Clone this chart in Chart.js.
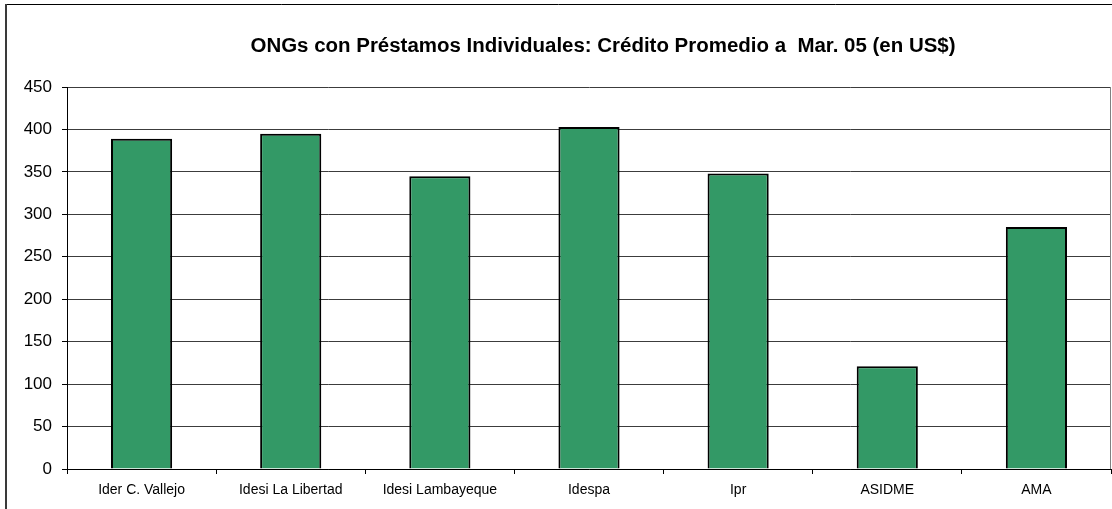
<!DOCTYPE html>
<html>
<head>
<meta charset="utf-8">
<script src="https://cdn.jsdelivr.net/npm/chart.js@4/dist/chart.umd.min.js"></script>
<style>
  html, body { margin: 0; padding: 0; background: #fff; }
  #wrap { width: 1112px; height: 509px; position: relative; }
</style>
</head>
<body>
<div id="wrap"><canvas id="c" width="1112" height="509"></canvas></div>
<script>
const titleText = "ONGs con Préstamos Individuales: Crédito Promedio a  Mar. 05 (en US$)";
const categories = ["Ider C. Vallejo", "Idesi La Libertad", "Idesi Lambayeque", "Idespa", "Ipr", "ASIDME", "AMA"];
const creditoPromedio = [389, 395, 345, 403, 348, 121, 285];
const yTicks = [0, 50, 100, 150, 200, 250, 300, 350, 400, 450];

const framePlugin = {
  id: 'frame',
  afterDraw(chart) {
    const ctx = chart.ctx;
    ctx.save();
    ctx.strokeStyle = '#000';
    ctx.lineWidth = 1;
    ctx.beginPath();
    ctx.moveTo(5, 4.5); ctx.lineTo(1112, 4.5);
    ctx.stroke();
    ctx.strokeStyle = '#3a3a3a';
    ctx.lineWidth = 2;
    ctx.beginPath();
    ctx.moveTo(6, 4); ctx.lineTo(6, 509);
    ctx.stroke();
    const a = chart.chartArea;
    ctx.strokeStyle = '#808080';
    ctx.lineWidth = 1;
    ctx.beginPath();
    ctx.moveTo(a.right - 0.5, a.top); ctx.lineTo(a.right - 0.5, a.bottom);
    ctx.stroke();
    ctx.font = 'bold 20px "Liberation Sans", Arial, sans-serif';
    ctx.fillStyle = '#000';
    ctx.textAlign = 'center';
    ctx.textBaseline = 'alphabetic';
    const w = ctx.measureText(titleText).width;
    const sx = 705 / w;
    ctx.translate(603, 52);
    ctx.scale(sx, 1);
    ctx.fillText(titleText, 0, 0);
    ctx.restore();
  }
};

new Chart(document.getElementById('c'), {
  type: 'bar',
  data: {
    labels: categories,
    datasets: [{
      data: creditoPromedio,
      backgroundColor: '#339966',
      borderColor: '#000',
      borderWidth: 2,
      borderSkipped: 'bottom',
      barPercentage: 0.41,
      categoryPercentage: 1.0
    }]
  },
  options: {
    responsive: false,
    animation: false,
    devicePixelRatio: 1,
    layout: { padding: { top: 87, right: 1, left: 0, bottom: 0 } },
    plugins: {
      legend: { display: false },
      title: { display: false },
      tooltip: { enabled: false }
    },
    scales: {
      x: {
        offset: true,
        grid: {
          offset: true,
          drawOnChartArea: false,
          drawTicks: true,
          tickLength: 5,
          color: '#000',
          lineWidth: 1
        },
        border: { display: true, color: '#000', width: 1 },
        ticks: {
          color: '#000',
          font: { family: '"Liberation Sans", Arial, sans-serif', size: 14 },
          padding: 8,
          maxRotation: 0,
          autoSkip: false
        },
        afterFit(scale) { scale.height = 40; }
      },
      y: {
        min: 0,
        max: 450,
        afterBuildTicks(scale) { scale.ticks = yTicks.map(v => ({ value: v })); },
        grid: {
          color: '#3c3c3c',
          lineWidth: 1,
          drawTicks: true,
          tickLength: 5,
          tickColor: '#000'
        },
        border: { display: true, color: '#000', width: 1 },
        ticks: {
          color: '#000',
          font: { family: '"Liberation Sans", Arial, sans-serif', size: 17 },
          padding: 10
        },
        afterFit(scale) { scale.width = 67; }
      }
    }
  },
  plugins: [framePlugin]
});
</script>
</body>
</html>
